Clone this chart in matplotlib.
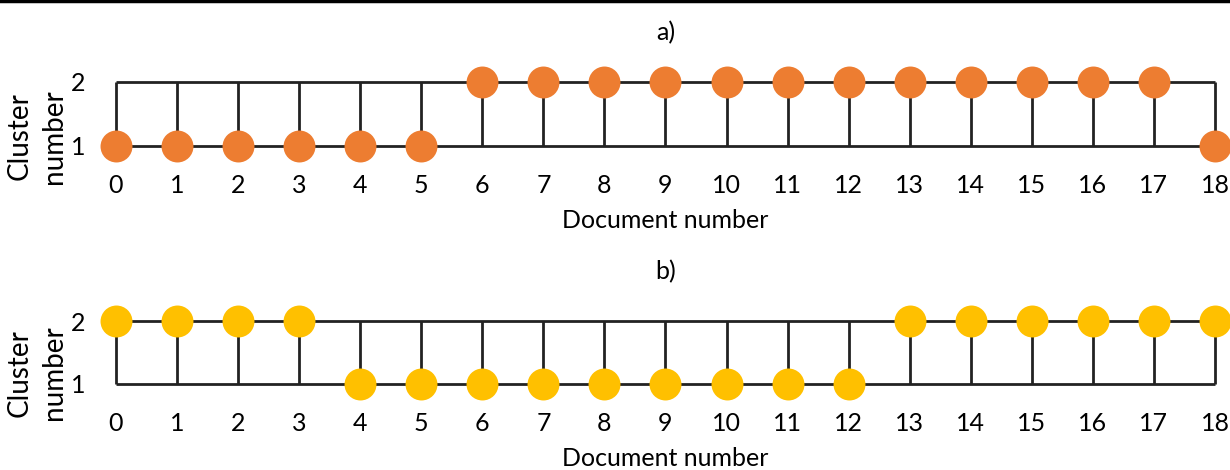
import matplotlib
matplotlib.use("Agg")
import matplotlib.pyplot as plt
from matplotlib.lines import Line2D
import numpy as np

plt.rcParams['font.family'] = ['Lato', 'DejaVu Sans']

documents = np.arange(19)
clusters_a = [1, 1, 1, 1, 1, 1, 2, 2, 2, 2, 2, 2, 2, 2, 2, 2, 2, 2, 1]
clusters_b = [2, 2, 2, 2, 1, 1, 1, 1, 1, 1, 1, 1, 1, 2, 2, 2, 2, 2, 2]
cluster_ticks = [1, 2]
panel_titles = ["a)", "b)"]
colors = ["#ED7D31", "#FFC000"]

FS = 18

fig = plt.figure(figsize=(12.3, 4.7), dpi=100)

# thin rule across the top of the figure
fig.add_artist(Line2D([0, 1], [0.997, 0.997], color="black", lw=2.5,
                      transform=fig.transFigure))

# axes rects in figure fractions (left, bottom, width, height)
rects = [[0.0943, 0.6894, 0.8935, 0.1362],
         [0.0943, 0.1830, 0.8935, 0.1340]]
ylabel_y = [0.15, 0.18]

for rect, clusters, title, color, ly in zip(rects, [clusters_a, clusters_b],
                                            panel_titles, colors, ylabel_y):
    ax = fig.add_axes(rect)
    ax.set_xlim(documents[0], documents[-1])
    ax.set_ylim(min(cluster_ticks), max(cluster_ticks))

    # ladder: one rail per cluster, rungs at every document
    ax.hlines(cluster_ticks, documents[0], documents[-1], color="#222222",
              lw=2, clip_on=False, zorder=1)
    ax.vlines(documents, min(cluster_ticks), max(cluster_ticks),
              color="#222222", lw=2, clip_on=False, zorder=1)
    ax.plot(documents, clusters, "o", ms=23, color=color, mec="none",
            clip_on=False, zorder=3)

    for s in ax.spines.values():
        s.set_visible(False)
    ax.set_xticks(documents)
    ax.set_yticks(cluster_ticks)
    ax.tick_params(axis="both", length=0, labelsize=FS, labelcolor="black")
    ax.tick_params(axis="x", pad=20)
    ax.tick_params(axis="y", pad=22)
    ax.set_xlabel("Document number", fontsize=FS, labelpad=9)
    ax.set_ylabel("Cluster\nnumber", fontsize=20, linespacing=1.4,
                  va="center")
    ax.yaxis.set_label_coords(-0.072, ly)
    ax.set_title(title, fontsize=FS, pad=30)

fig.savefig("out.png", dpi=100)
